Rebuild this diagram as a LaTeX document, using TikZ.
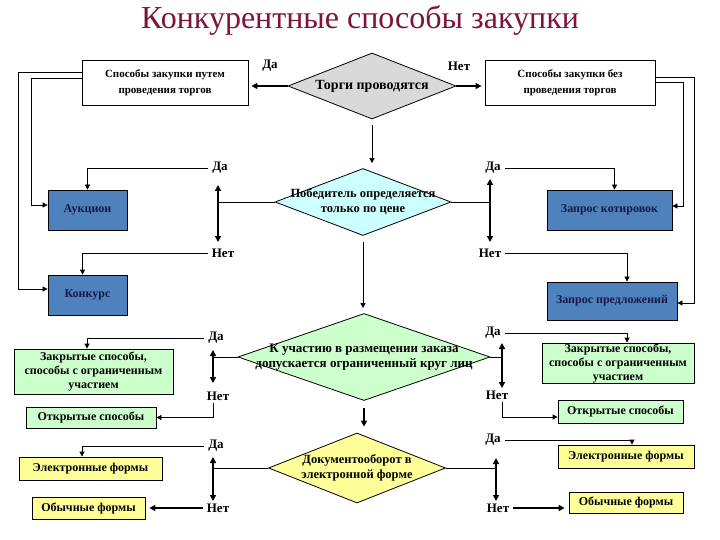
\documentclass[tikz,border=0pt]{standalone}
\usepackage{fontspec}
\setmainfont{Liberation Serif}
\usetikzlibrary{arrows.meta,shapes.geometric,calc}
\definecolor{titlered}{RGB}{128,20,52}
\definecolor{blueF}{RGB}{79,129,189}
\definecolor{navy}{RGB}{25,25,70}
\definecolor{greenF}{RGB}{204,255,204}
\definecolor{yellowF}{RGB}{255,255,153}
\definecolor{cyanF}{RGB}{204,255,255}
\definecolor{grayF}{RGB}{217,217,217}
\begin{document}
\begin{tikzpicture}[x=1pt,y=-1pt,
  box/.style={draw=black, line width=0.8pt, inner sep=0pt, align=center, font=\bfseries\fontsize{12}{14}\selectfont},
  wbox/.style={box, fill=white, font=\bfseries\fontsize{11}{16}\selectfont},
  bbox/.style={box, fill=blueF, text=navy},
  gbox/.style={box, fill=greenF},
  ybox/.style={box, fill=yellowF},
  dec/.style={diamond, draw=black, line width=0.8pt, inner sep=0pt},
  dtext/.style={align=center, inner sep=0pt, font=\bfseries\fontsize{12.5}{15}\selectfont},
  lab/.style={font=\bfseries\fontsize{13}{15}\selectfont, inner xsep=4pt, inner ysep=2pt},
  ln/.style={line width=0.8pt},
  arr/.style={line width=0.8pt, -{Triangle[length=5pt,width=5pt]}},
  tarr/.style={line width=1.8pt, -{Triangle[length=6pt,width=6pt]}},
  darr/.style={line width=1.8pt, {Triangle[length=6pt,width=6pt]}-{Triangle[length=6pt,width=6pt]}}
]
\useasboundingbox (0,0) rectangle (720,540);

\node[font=\fontsize{32}{36}\selectfont, text=titlered] (title) at (360,21) {Конкурентные способы закупки};

% top row
\node[wbox, minimum width=166pt, minimum height=45pt] (b1) at (165,82.5) {Способы закупки путем\\проведения торгов};
\node[wbox, minimum width=170pt, minimum height=45pt] (b2) at (570,82.5) {Способы закупки без\\проведения торгов};
\node[dec, fill=grayF, minimum width=168pt, minimum height=66pt,
  label={[dtext, font=\bfseries\fontsize{14}{16}\selectfont]center:Торги проводятся}] (d1) at (372,86) {};
\node[lab] (da1) at (270,66) {Да};
\node[lab] (net1) at (459,66) {Нет};

% decisions
\node[dec, fill=cyanF, minimum width=176pt, minimum height=67pt,
  label={[dtext]center:Победитель определяется\\только по цене}] (d2) at (363,202) {};
\node[dec, fill=greenF, minimum width=252pt, minimum height=87pt,
  label={[dtext, font=\bfseries\fontsize{13}{15}\selectfont]center:К участию в размещении заказа\\допускается ограниченный круг лиц}] (d3) at (364,357) {};
\node[dec, fill=yellowF, minimum width=177pt, minimum height=70pt,
  label={[dtext]center:Документооборот в\\электронной форме}] (d4) at (357,468) {};

% blue boxes
\node[bbox, minimum width=79pt, minimum height=40pt] (auk) at (87.5,210) {Аукцион};
\node[bbox, minimum width=79pt, minimum height=40pt] (konk) at (87.5,295) {Конкурс};
\node[bbox, minimum width=125pt, minimum height=40pt] (kot) at (609.5,210) {Запрос котировок};
\node[bbox, minimum width=130pt, minimum height=38pt] (pred) at (612,301) {Запрос предложений};

% green boxes
\node[gbox, minimum width=159pt, minimum height=45pt] (zl) at (93.5,371.5) {Закрытые способы,\\способы с ограниченным\\участием};
\node[gbox, minimum width=130pt, minimum height=21pt] (ol) at (91,417.5) {Открытые способы};
\node[gbox, minimum width=152pt, minimum height=40pt] (zr) at (618,363) {Закрытые способы,\\способы с ограниченным\\участием};
\node[gbox, minimum width=125pt, minimum height=23pt] (or) at (620.5,411.5) {Открытые способы};

% yellow boxes
\node[ybox, minimum width=143pt, minimum height=23pt] (el) at (90.5,468.5) {Электронные формы};
\node[ybox, minimum width=113pt, minimum height=22pt] (obl) at (88.5,508) {Обычные формы};
\node[ybox, minimum width=136pt, minimum height=23pt] (er) at (626,456.5) {Электронные формы};
\node[ybox, minimum width=114pt, minimum height=21pt] (obr) at (626,502.5) {Обычные формы};

% labels
\node[lab] (da2L) at (220,168) {Да};
\node[lab] (net2L) at (223,253) {Нет};
\node[lab] (da2R) at (493,168) {Да};
\node[lab] (net2R) at (490,253) {Нет};
\node[lab] (da3L) at (216,338) {Да};
\node[lab] (net3L) at (218,396) {Нет};
\node[lab] (da3R) at (493,333) {Да};
\node[lab] (net3R) at (497,395) {Нет};
\node[lab] (da4L) at (216,446) {Да};
\node[lab] (net4L) at (218,508) {Нет};
\node[lab] (da4R) at (493,440) {Да};
\node[lab] (net4R) at (498,508) {Нет};

% junctions and tips
\coordinate (j2L) at (218,202);  \coordinate (t2Lu) at (218,185); \coordinate (t2Ld) at (218,242);
\coordinate (j2R) at (490,202);  \coordinate (t2Ru) at (490,179); \coordinate (t2Rd) at (490,242);
\coordinate (j3L) at (213,357);  \coordinate (t3Lu) at (213,350); \coordinate (t3Ld) at (213,383);
\coordinate (j3R) at (502,357);  \coordinate (t3Ru) at (502,343); \coordinate (t3Rd) at (502,388);
\coordinate (j4L) at (213,468);  \coordinate (t4Lu) at (213,457); \coordinate (t4Ld) at (213,501);
\coordinate (j4R) at (496,468);  \coordinate (t4Ru) at (496,458); \coordinate (t4Rd) at (496,501);

% top arrows
\draw[tarr, shorten >=3pt] (d1.west) -- (d1.west -| b1.east);
\draw[tarr, shorten >=3pt] (d1.east) -- (d1.east -| b2.west);

% outer loops
\draw[arr] ([yshift=10.5pt]b1.west) -- ++(-63,0) |- ([yshift=6pt]konk.west);
\draw[arr] ([yshift=4.5pt]b1.west) -- ++(-50,0) |- ([yshift=5pt]auk.west);
\draw[arr] ([yshift=5.5pt]b2.east) -- ++(39,0) |- ([yshift=-2pt]pred.east);
\draw[arr] ([yshift=0.5pt]b2.east) -- ++(28,0) |- ([yshift=4pt]kot.east);

% between diamonds
\draw[arr, shorten <=6pt, shorten >=5pt] (d1.south) -- (d1.south |- d2.north);
\draw[arr, shorten <=6pt, shorten >=5pt] (d2.south) -- (d2.south |- d3.north);
\draw[tarr, shorten <=7pt, shorten >=6pt] (d3.south) -- (d3.south |- d4.north);

% stubs and double arrows
\draw[ln] (d2.west) -- (j2L);  \draw[darr] (t2Lu) -- (t2Ld);
\draw[ln] (d2.east) -- (j2R);  \draw[darr] (t2Ru) -- (t2Rd);
\draw[ln] (d3.west) -- (j3L);  \draw[darr] (t3Lu) -- (t3Ld);
\draw[ln] (d3.east) -- (j3R);  \draw[darr] (t3Ru) -- (t3Rd);
\draw[ln] (d4.west) -- (j4L);  \draw[darr] (t4Lu) -- (t4Ld);
\draw[ln] (d4.east) -- (j4R);  \draw[darr] (t4Ru) -- (t4Rd);

% outcome connectors
\draw[arr] (da2L.west) -| (auk.north);
\draw[arr] (net2L.west) -| ([xshift=-5pt]konk.north);
\draw[arr] (da2R.east) -| ([xshift=5pt]kot.north);
\draw[arr] (net2R.east) -| ([xshift=15pt]pred.north);
\draw[arr] (da3L.west) -| ([xshift=-6.5pt]zl.north);
\draw[arr] (j3L |- net3L.south) |- (ol.east);
\draw[arr] (da3R.east) -| ([xshift=9pt]zr.north);
\draw[arr] (j3R |- net3R.south) |- ([yshift=-5.5pt]or.west);
\draw[arr] (da4L.west) -| ([xshift=-8.5pt]el.north);
\draw[tarr, shorten >=4pt] (net4L.west) -- (net4L.west -| obl.east);
\draw[arr] (da4R.east) -| ([xshift=6pt]er.north);
\draw[tarr, shorten >=4pt] (net4R.east) -- (net4R.east -| obr.west);
\end{tikzpicture}
\end{document}
